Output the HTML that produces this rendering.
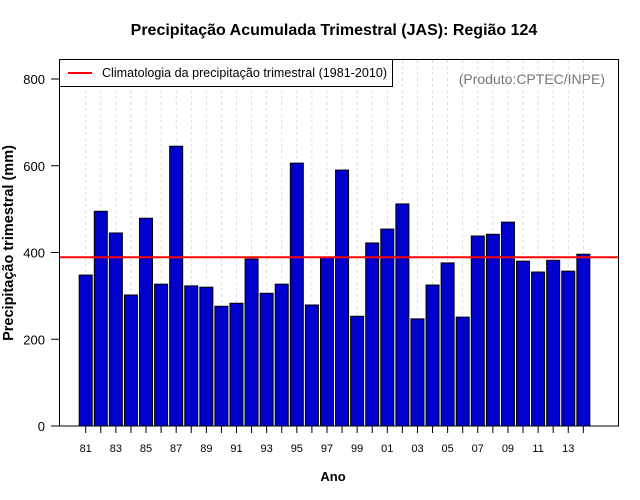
<!DOCTYPE html>
<html><head><meta charset="utf-8"><style>
body{margin:0;background:#fff;}
svg{display:block;font-family:"Liberation Sans",Arial,sans-serif;}
</style></head><body>
<svg id="chart" width="640" height="500" viewBox="0 0 640 500">
<text x="334" y="35" font-size="16" font-weight="bold" text-anchor="middle">Precipitação Acumulada Trimestral (JAS): Região 124</text>
<g id="grid"></g>
<g id="bars"></g>
<g id="axes"></g>
<rect x="59.5" y="59.5" width="559" height="366.5" fill="none" stroke="#000"/>
<g>
<rect x="59.5" y="59.5" width="333" height="27" fill="#fff" stroke="#000"/>
<line x1="68" y1="73" x2="92" y2="73" stroke="#f00" stroke-width="2"/>
<text x="102" y="77" font-size="12.5" textLength="285">Climatologia da precipitação trimestral (1981-2010)</text>
</g>
<text x="605" y="84" font-size="14" fill="#777" text-anchor="end">(Produto:CPTEC/INPE)</text>
<text x="333" y="481" font-size="13" font-weight="bold" text-anchor="middle">Ano</text>
<text transform="translate(13,243) rotate(-90)" font-size="14.5" font-weight="bold" text-anchor="middle">Precipitação trimestral (mm)</text>
</svg>
<script>
const years = [1981,1982,1983,1984,1985,1986,1987,1988,1989,1990,1991,1992,1993,1994,1995,1996,1997,1998,1999,2000,2001,2002,2003,2004,2005,2006,2007,2008,2009,2010,2011,2012,2013,2014];
const values = [348,495,445,302,479,327,645,323,320,276,283,385,306,327,606,279,389,590,253,422,454,512,247,325,376,251,438,442,470,380,355,382,357,396];
const climatology = 389;
const yTicks = [0,200,400,600,800];
const NS='http://www.w3.org/2000/svg';
const y0=426, yScale=347/800;
function yPos(v){return y0 - v*yScale;}
function xPos(i){return 85.7 + i*15.08;}
function mk(tag,attrs,parent){const e=document.createElementNS(NS,tag);for(const k in attrs)e.setAttribute(k,attrs[k]);parent.appendChild(e);return e;}
const grid=document.getElementById('grid'),bars=document.getElementById('bars'),axes=document.getElementById('axes');
years.forEach((yr,i)=>{
  const x=xPos(i);
  const g=mk('line',{x1:x,y1:60,x2:x,y2:426,stroke:'#d4d4d4','stroke-width':0.8,'stroke-dasharray':'3,3'},grid);
  
  
  const b=mk('rect',{x:x-6.5,y:yPos(values[i]),width:13,height:values[i]*yScale,fill:'#0000cc',stroke:'#000'},bars);
  
  
  const t=mk('line',{x1:x,y1:426,x2:x,y2:433,stroke:'#000'},axes);
  
  
  if(i%2===0){
    const l=mk('text',{x:x,y:452,'font-size':11,'text-anchor':'middle'},axes);
    l.textContent=String(yr%100).padStart(2,'0');
    
    
  }
});
const cl=mk('line',{x1:59,y1:yPos(climatology),x2:618,y2:yPos(climatology),stroke:'#f00','stroke-width':2},bars);


yTicks.forEach(v=>{
  const y=yPos(v);
  const t=mk('line',{x1:51,y1:y,x2:59,y2:y,stroke:'#000'},axes);
  
  
  const l=mk('text',{x:45,y:y+5,'font-size':13,'text-anchor':'end'},axes);
  l.textContent=v;
  
  
});
</script>
</body></html>
